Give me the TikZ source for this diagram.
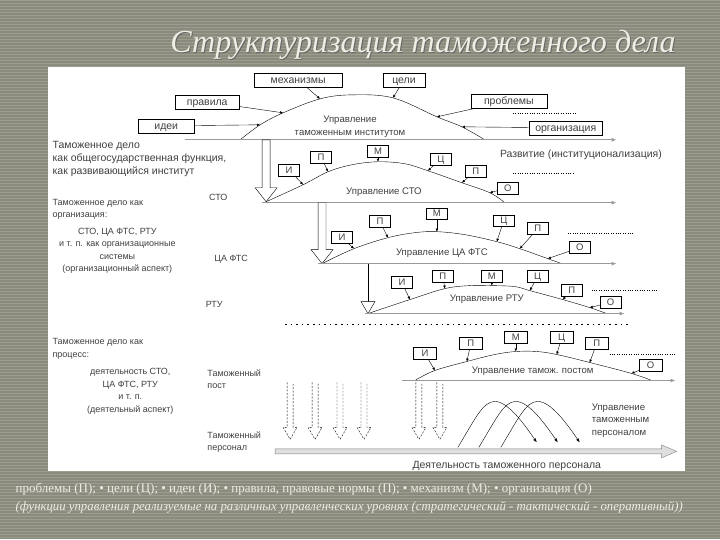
\documentclass[tikz,border=0pt]{standalone}
\usepackage{fontspec}
\setmainfont{Liberation Sans}
\newfontfamily\slidefont{Liberation Serif}
\usetikzlibrary{arrows.meta}
\definecolor{slidebg}{HTML}{8A8B7C}
\definecolor{slidestripe}{HTML}{9C9D8F}
\definecolor{slidetext}{HTML}{EEEEE4}
\definecolor{axisgray}{HTML}{9A9A9A}
\begin{document}
\begin{tikzpicture}[x=1pt,y=-1pt,
  box/.style={draw,fill=white,inner sep=1pt,minimum height=14pt,font=\fontsize{10.5}{11}\selectfont,text=black!75,text height=1.5ex,text depth=0.25ex},
  lbox/.style={box,minimum width=21pt,minimum height=12pt,font=\fontsize{9.5}{10}\selectfont},
  pin/.style={-{Latex[length=3pt,width=2.6pt]},thin},
  axis/.style={draw=axisgray,line width=1.3pt,-{Latex[length=5pt,width=4pt]}},
  lab/.style={font=\fontsize{9}{12.5}\selectfont,inner sep=0pt,text=black!75},
  ulab/.style={lab,font=\fontsize{9.6}{12.5}\selectfont},
  curve/.style={thin,smooth,tension=0.6},
  dots/.style={dotted,thin}]
  % slide background
  \fill[slidebg] (0,0) rectangle (720,540);
  \foreach \y in {1,4,...,540}
    \draw[slidestripe,line width=1pt] (0,\y) -- (720,\y);
  \fill[white] (48,67) rectangle (685,472);
  \node[text=black!60] at (424,46) {\resizebox{506pt}{!}{\slidefont\itshape Структуризация таможенного дела}};
  \node[text=slidetext] (title) at (423,45) {\resizebox{506pt}{!}{\slidefont\itshape Структуризация таможенного дела}};

  % level 0: institute
  \foreach \n/\p in {a/{240,140},b/{260,125},c/{283,113},d/{320,99},e/{352,95},f/{393,98},g/{437,117},h/{462,127},i/{485,140}}
    \coordinate (c0\n) at (\p);
  \draw[curve] plot coordinates {(c0a) (c0b) (c0c) (c0d) (c0e) (c0f) (c0g) (c0h) (c0i)};
  \node[box,minimum width=88pt] (mech) at (298,80) {механизмы};
  \node[box,minimum width=42pt] (celi) at (404,80) {цели};
  \node[box,minimum width=64pt] (prav) at (207,102) {правила};
  \node[box,minimum width=76pt] (prob) at (509,101) {проблемы};
  \node[box,minimum width=56pt] (idei) at (166,126) {идеи};
  \node[box,minimum width=74pt] (org) at (566,128) {организация};
  \draw[pin] (idei) -- (c0b);
  \draw[pin] (prav) -- (c0c);
  \draw[pin] (mech) -- (c0d);
  \draw[pin] (celi) -- (c0f);
  \draw[pin] (prob) -- (c0g);
  \draw[pin] (org) -- (c0h);
  \draw[dots] (513,113) -- (577,113);
  \node[ulab,align=center] (u0) at (350,127) {Управление\\таможенным институтом};
  \coordinate (l0s) at (185,140);
  \coordinate (l0e) at (617,140);
  \draw[axis] (l0s) -- (l0e);

  % level 1: СТО
  \coordinate (A1) at (266,140);
  \draw[fill=white] (A1) ++(-4,0) -- ++(0,48) -- ++(-7,0) -- ++(11,14) -- ++(11,-14) -- ++(-7,0) -- ++(0,-48) -- cycle;
  \foreach \n/\p in {a/{266,202},b/{303,185},c/{328,172},d/{352,165},e/{378,162},f/{405,164},g/{428,171},h/{462,183},i/{490,193},j/{505,203}}
    \coordinate (c1\n) at (\p);
  \draw[curve] plot coordinates {(c1a) (c1b) (c1c) (c1d) (c1e) (c1f) (c1g) (c1h) (c1i) (c1j)};
  \foreach \n/\t/\p/\q in {i/И/{289,170}/b,p/П/{321,157}/c,m/М/{378,151}/e,c/Ц/{441,159}/g,q/П/{476,171}/h,o/О/{508,188}/i}{
    \node[lbox] (b1\n) at (\p) {\t};
    \draw[pin] (b1\n) -- (c1\q);
  }
  \draw[dots] (513,173) -- (575,173);
  \node[lab,anchor=west] (dev) at (500,155) {\resizebox{162pt}{!}{Развитие (институционализация)}};
  \node[ulab] (u1) at (384,192) {Управление СТО};
  \node[lab] (sto) at (218,198) {СТО};
  \coordinate (l1s) at (262,203);
  \coordinate (l1e) at (617,203);
  \draw[axis] (l1s) -- (l1e);

  % level 2: ЦА ФТС
  \coordinate (A2) at (322,203);
  \draw[fill=white] (A2) ++(-4,0) -- ++(0,47) -- ++(-7,0) -- ++(11,14) -- ++(11,-14) -- ++(-7,0) -- ++(0,-47) -- cycle;
  \foreach \n/\p in {a/{322,264},b/{354,249},c/{388,238},d/{415,233},e/{437,232},f/{465,235},g/{497,242},h/{520,249},i/{548,259},j/{562,264}}
    \coordinate (c2\n) at (\p);
  \draw[curve] plot coordinates {(c2a) (c2b) (c2c) (c2d) (c2e) (c2f) (c2g) (c2h) (c2i) (c2j)};
  \foreach \n/\t/\p/\q in {i/И/{342,238}/b,p/П/{380,222}/c,m/М/{437,214}/e,c/Ц/{504,221}/g,q/П/{538,229}/h,o/О/{580,248}/i}{
    \node[lbox] (b2\n) at (\p) {\t};
    \draw[pin] (b2\n) -- (c2\q);
  }
  \draw[dots] (568,234) -- (635,234);
  \node[ulab] (u2) at (442,253) {Управление ЦА ФТС};
  \node[lab] (fts) at (231,260) {ЦА ФТС};
  \coordinate (l2s) at (318,264);
  \coordinate (l2e) at (617,264);
  \draw[axis] (l2s) -- (l2e);

  % level 3: РТУ
  \coordinate (A3) at (368,264);
  \coordinate (A3t) at (368,314);
  \draw (A3) -- ++(0,38);
  \draw[fill=white] (A3t) -- ++(-7,-12) -- ++(14,0) -- cycle;
  \foreach \n/\p in {a/{368,314},b/{410,300},c/{445,289},d/{470,286},e/{492,286},f/{515,287},g/{530,291},h/{563,300},i/{590,308},j/{607,314}}
    \coordinate (c3\n) at (\p);
  \draw[curve] plot coordinates {(c3a) (c3b) (c3c) (c3d) (c3e) (c3f) (c3g) (c3h) (c3i) (c3j)};
  \foreach \n/\t/\p/\q in {i/И/{402,283}/b,p/П/{443,277}/c,m/М/{492,277}/e,c/Ц/{538,277}/g,q/П/{572,291}/h,o/О/{611,303}/i}{
    \node[lbox] (b3\n) at (\p) {\t};
    \draw[pin] (b3\n) -- (c3\q);
  }
  \draw[dots] (592,291) -- (658,291);
  \node[ulab] (u3) at (487,300) {Управление РТУ};
  \node[lab] (rtu) at (214,305) {РТУ};
  \coordinate (l3s) at (365,314);
  \coordinate (l3e) at (625,314);
  \draw[axis] (l3s) -- (l3e);

  \draw[line width=1.6pt,dash pattern=on 1.6pt off 4pt] (285,325) -- (628,325);

  % level 4: таможенный пост
  \foreach \n/\p in {a/{415,381},b/{435,371},c/{467,362},d/{495,355},e/{516,352},f/{537,352},g/{557,355},h/{590,363},i/{632,374},j/{652,381}}
    \coordinate (c4\n) at (\p);
  \draw[curve] plot coordinates {(c4a) (c4b) (c4c) (c4d) (c4e) (c4f) (c4g) (c4h) (c4i) (c4j)};
  \foreach \n/\t/\p/\q in {i/И/{425,354}/b,p/П/{471,344}/c,m/М/{516,338}/e,c/Ц/{562,338}/g,q/П/{597,344}/h,o/О/{651,366}/i}{
    \node[lbox,minimum width=23pt] (b4\n) at (\p) {\t};
    \draw[pin] (b4\n) -- (c4\q);
  }
  \draw[dots] (610,355) -- (677,355);
  \node[ulab] (u4) at (533,372) {Управление тамож. постом};
  \coordinate (l4s) at (402,381);
  \coordinate (l4e) at (676,381);
  \draw[axis] (l4s) -- (l4e);

  % dashed arrows down to personnel
  \foreach \x in {290,315,340,364,419,440}
    \draw[thin,dash pattern=on 2pt off 1.5pt] (\x-3,383) -- ++(0,45) -- ++(-4,0) -- ++(7,12) -- ++(7,-12) -- ++(-4,0) -- ++(0,-45);

  % personnel waves
  \foreach \d in {0,21,43}
    \draw[thin,-{Latex[length=4pt,width=3pt]}] (458+\d,448) .. controls (475+\d,420) and (483+\d,402) .. (495+\d,402) .. controls (508+\d,402) and (524+\d,424) .. (537+\d,443);
  \node[lab,align=left,anchor=west,font=\fontsize{9.6}{12.5}\selectfont] (u5) at (592,421) {Управление\\таможенным\\персоналом};
  \coordinate (bar) at (275,452);
  \draw[draw=gray,fill=gray!25] (bar) ++(0,-2.5) -- ++(387,0) -- ++(0,-4) -- ++(15,6.5) -- ++(-15,6.5) -- ++(0,-4) -- ++(-387,0) -- cycle;
  \node[lab,font=\fontsize{10.5}{12}\selectfont] (act) at (507,467) {Деятельность таможенного персонала};

  % left column
  \node[lab,align=left,anchor=north west,font=\fontsize{10.5}{13}\selectfont] (t1) at (52,141) {Таможенное дело\\как общегосударственная функция,\\как развивающийся институт};
  \node[lab,align=left,anchor=north west] (t2) at (52,199) {Таможенное дело как\\организация:};
  \node[lab,align=center,anchor=north] (t3) at (117,228) {СТО, ЦА ФТС, РТУ\\и т. п. как организационные\\системы\\(организационный аспект)};
  \node[lab,align=left,anchor=north west] (t4) at (52,339) {Таможенное дело как\\процесс:};
  \node[lab,align=center,anchor=north] (t5) at (130,369) {деятельность СТО,\\ЦА ФТС, РТУ\\и т. п.\\(деятельный аспект)};
  \node[lab,align=left,anchor=north west] (post) at (207,370) {Таможенный\\пост};
  \node[lab,align=left,anchor=north west] (pers) at (207,432) {Таможенный\\персонал};

  % legend
  \node[anchor=west,inner sep=0pt,text=slidetext] (leg1) at (15,490) {\resizebox{577pt}{!}{\slidefont проблемы (П); • цели (Ц); • идеи (И); • правила, правовые нормы (П); • механизм (М); • организация (О)}};
  \node[anchor=west,inner sep=0pt,text=slidetext] (leg2) at (15,508) {\resizebox{668pt}{!}{\slidefont\itshape (функции управления реализуемые на различных управленческих уровнях (стратегический - тактический - оперативный))}};
\end{tikzpicture}
\end{document}
